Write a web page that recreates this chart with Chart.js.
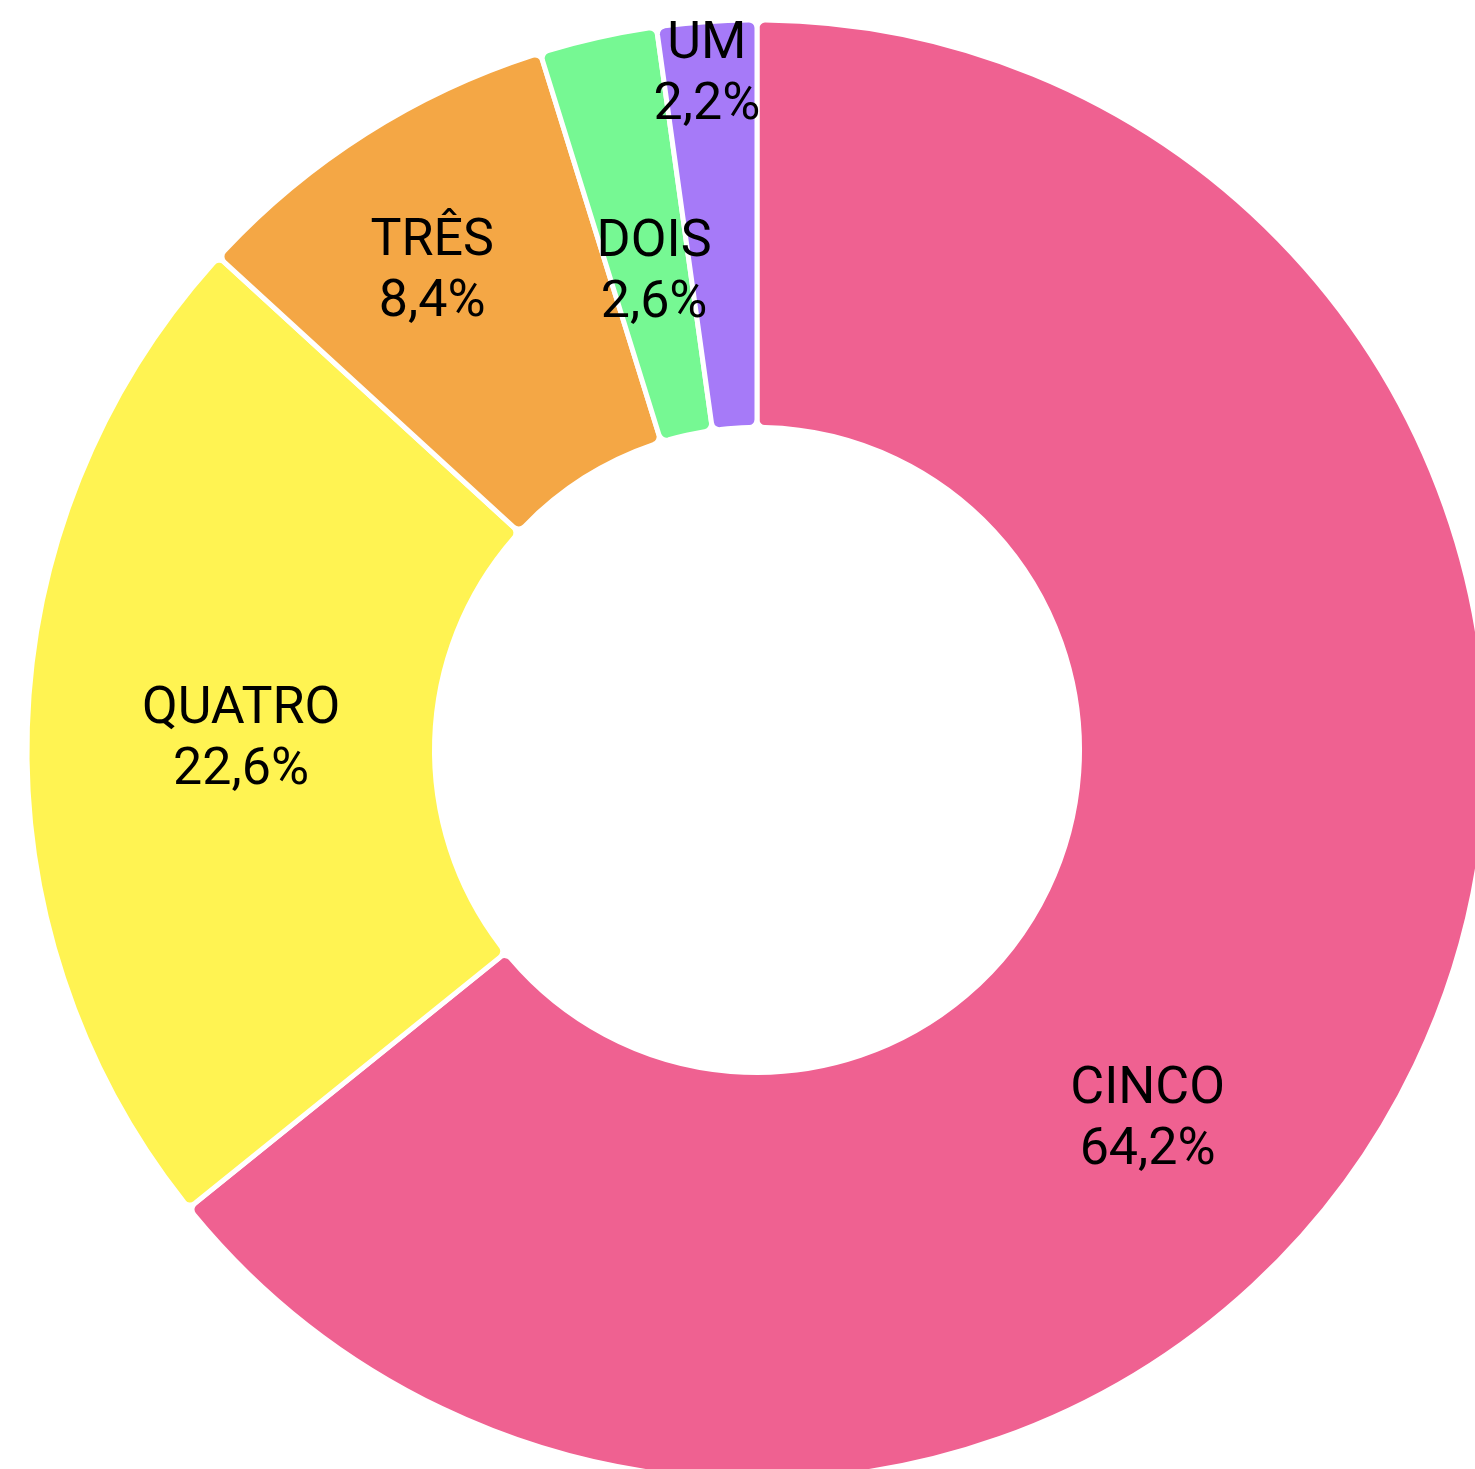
<!DOCTYPE html>
<html>
<head>
<meta charset="utf-8">
<script src="https://cdn.jsdelivr.net/npm/chart.js@4/dist/chart.umd.min.js"></script>
<style>
  html, body { margin: 0; padding: 0; background: #ffffff; }
  #wrap { position: relative; width: 1475px; height: 1469px; overflow: hidden; }
</style>
</head>
<body>
<div id="wrap"><canvas id="chart"></canvas></div>
<script>
// Share of answers per score, clockwise from the top
const categories = ['CINCO', 'QUATRO', 'TRÊS', 'DOIS', 'UM'];
const shares = [64.2, 22.6, 8.4, 2.6, 2.2];
const sliceColors = ['#EF6191', '#FFF352', '#F4A745', '#76F893', '#A67AF8'];

// Where each label sits inside its slice: fraction along the arc, fraction across the ring
const labelPlacement = [
  { along: 0.576, across: 0.522 },
  { along: 0.497, across: 0.475 },
  { along: 0.447, across: 0.634 },
  { along: 0.555, across: 0.415 },
  { along: 0.467, across: 0.879 }
];

const formatShare = v => v.toFixed(1).replace('.', ',') + '%';

const sliceLabels = {
  id: 'sliceLabels',
  afterDatasetsDraw(chart) {
    const ctx = chart.ctx;
    const meta = chart.getDatasetMeta(0);
    ctx.save();
    ctx.font = '52px Roboto';
    ctx.fillStyle = '#000000';
    ctx.textAlign = 'center';
    ctx.textBaseline = 'alphabetic';
    meta.data.forEach((arc, i) => {
      const p = arc.getProps(['x', 'y', 'startAngle', 'endAngle', 'innerRadius', 'outerRadius'], true);
      const place = labelPlacement[i];
      const a = p.startAngle + (p.endAngle - p.startAngle) * place.along;
      const r = p.innerRadius + (p.outerRadius - p.innerRadius) * place.across;
      const cx = p.x + Math.cos(a) * r;
      const cy = p.y + Math.sin(a) * r;
      ctx.fillText(categories[i], cx, cy - 13);
      ctx.fillText(formatShare(shares[i]), cx, cy + 48);
    });
    ctx.restore();
  }
};

new Chart(document.getElementById('chart'), {
  type: 'doughnut',
  data: {
    labels: categories,
    datasets: [{
      data: shares,
      backgroundColor: sliceColors,
      borderColor: '#ffffff',
      borderWidth: 5,
      borderRadius: 8,
      clip: false
    }]
  },
  options: {
    responsive: true,
    maintainAspectRatio: false,
    animation: false,
    radius: 730,
    cutout: '44.18%',
    layout: { padding: { left: 39, top: 31 } },
    plugins: {
      legend: { display: false },
      tooltip: { enabled: false }
    }
  },
  plugins: [sliceLabels]
});
</script>
</body>
</html>
